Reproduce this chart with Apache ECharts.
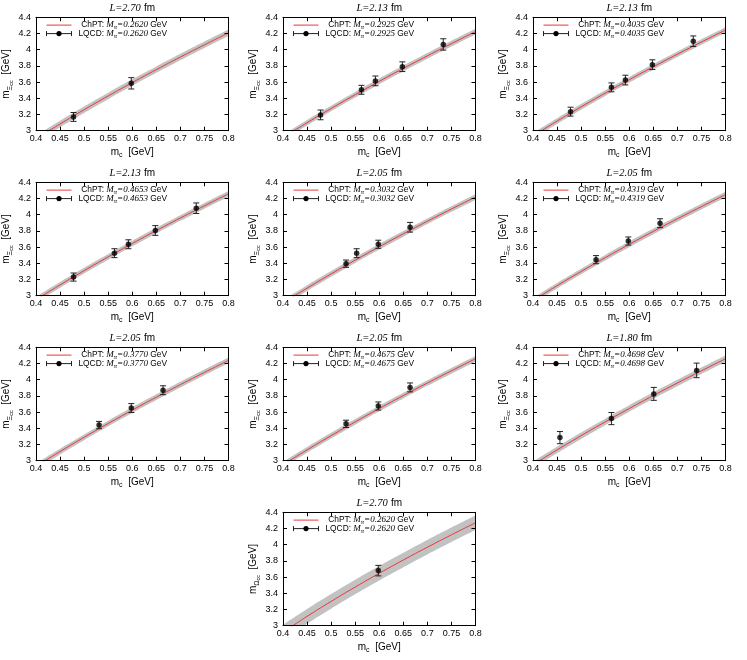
<!DOCTYPE html>
<html><head><meta charset="utf-8">
<script src="https://cdn.jsdelivr.net/npm/echarts@6/dist/echarts.min.js"></script>
<style>html,body{margin:0;padding:0;background:#fff}#c{width:747px;height:660px}</style>
</head><body><div id="c"></div>
<script>
// ---------- DATA ----------
const mcGrid = [0.40, 0.45, 0.50, 0.55, 0.60, 0.65, 0.70, 0.75, 0.80];

const chptP1  = [2.900, 3.083, 3.259, 3.429, 3.594, 3.754, 3.909, 4.060, 4.208];
const chptP2  = [2.915, 3.098, 3.274, 3.444, 3.609, 3.769, 3.924, 4.075, 4.223];
const chptP3  = [2.935, 3.118, 3.294, 3.464, 3.629, 3.789, 3.944, 4.095, 4.243];
const chptP4  = [2.950, 3.133, 3.309, 3.479, 3.644, 3.804, 3.959, 4.110, 4.258];
const chptP5  = [2.910, 3.093, 3.269, 3.439, 3.604, 3.764, 3.919, 4.070, 4.218];
const chptP6  = [2.940, 3.123, 3.299, 3.469, 3.634, 3.794, 3.949, 4.100, 4.248];
const chptP7  = [2.930, 3.113, 3.289, 3.459, 3.624, 3.784, 3.939, 4.090, 4.238];
const chptP8  = [2.950, 3.133, 3.309, 3.479, 3.644, 3.804, 3.959, 4.110, 4.258];
const chptP9  = [2.950, 3.133, 3.309, 3.479, 3.644, 3.804, 3.959, 4.110, 4.258];
const chptP10 = [2.920, 3.115, 3.300, 3.477, 3.647, 3.811, 3.969, 4.122, 4.270];

const bandHalfWidth = [0.04, 0.035, 0.035, 0.035, 0.035, 0.035, 0.035, 0.035, 0.04, 0.09];

const lqcdMcP1  = [0.478, 0.598];
const lqcdMP1   = [3.170, 3.585];
const lqcdErrP1 = [0.055, 0.070];
const lqcdMcP2  = [0.478, 0.563, 0.592, 0.648, 0.733];
const lqcdMP2   = [3.195, 3.505, 3.615, 3.790, 4.065];
const lqcdErrP2 = [0.060, 0.055, 0.060, 0.060, 0.070];
const lqcdMcP3  = [0.478, 0.563, 0.592, 0.648, 0.733];
const lqcdMP3   = [3.235, 3.535, 3.625, 3.815, 4.105];
const lqcdErrP3 = [0.055, 0.055, 0.060, 0.060, 0.065];
const lqcdMcP4  = [0.478, 0.563, 0.592, 0.648, 0.733];
const lqcdMP4   = [3.230, 3.525, 3.635, 3.805, 4.080];
const lqcdErrP4 = [0.050, 0.055, 0.055, 0.060, 0.065];
const lqcdMcP5  = [0.531, 0.553, 0.598, 0.664];
const lqcdMP5   = [3.395, 3.525, 3.635, 3.845];
const lqcdErrP5 = [0.045, 0.055, 0.050, 0.060];
const lqcdMcP6  = [0.531, 0.598, 0.664];
const lqcdMP6   = [3.445, 3.675, 3.895];
const lqcdErrP6 = [0.050, 0.050, 0.055];
const lqcdMcP7  = [0.531, 0.598, 0.664];
const lqcdMP7   = [3.440, 3.650, 3.870];
const lqcdErrP7 = [0.045, 0.055, 0.055];
const lqcdMcP8  = [0.531, 0.598, 0.664];
const lqcdMP8   = [3.455, 3.675, 3.905];
const lqcdErrP8 = [0.045, 0.050, 0.055];
const lqcdMcP9  = [0.456, 0.563, 0.651, 0.740];
const lqcdMP9   = [3.285, 3.520, 3.825, 4.115];
const lqcdErrP9 = [0.075, 0.075, 0.080, 0.090];
const lqcdMcP10  = [0.598];
const lqcdMP10   = [3.680];
const lqcdErrP10 = [0.065];

const boxSizes = ['2.70', '2.13', '2.13', '2.13', '2.05', '2.05', '2.05', '2.05', '1.80', '2.70'];
const pionMasses = ['0.2620', '0.2925', '0.4035', '0.4653', '0.3032', '0.4319', '0.3770', '0.4675', '0.4698', '0.2620'];
const baryonSymbols = ['Ξ', 'Ξ', 'Ξ', 'Ξ', 'Ξ', 'Ξ', 'Ξ', 'Ξ', 'Ξ', 'Ω'];

const xMin = 0.4, xMax = 0.8, xStep = 0.05;
const yMin = 3, yMax = 4.4, yStep = 0.2;

// ---------- BUILD ----------
const chpt = [chptP1, chptP2, chptP3, chptP4, chptP5, chptP6, chptP7, chptP8, chptP9, chptP10];
const lqcdMc = [lqcdMcP1, lqcdMcP2, lqcdMcP3, lqcdMcP4, lqcdMcP5, lqcdMcP6, lqcdMcP7, lqcdMcP8, lqcdMcP9, lqcdMcP10];
const lqcdM = [lqcdMP1, lqcdMP2, lqcdMP3, lqcdMP4, lqcdMP5, lqcdMP6, lqcdMP7, lqcdMP8, lqcdMP9, lqcdMP10];
const lqcdErr = [lqcdErrP1, lqcdErrP2, lqcdErrP3, lqcdErrP4, lqcdErrP5, lqcdErrP6, lqcdErrP7, lqcdErrP8, lqcdErrP9, lqcdErrP10];

const SANS = '"Liberation Sans", Arial, Helvetica, sans-serif';
const SERIF = '"Liberation Serif", "Times New Roman", serif';
const colLeft = [36, 283, 533];
const rowTop = [17.3, 182.3, 347.3, 512.3];
const PW = 192.5, PH = 113.4;
const pCol = [0, 1, 2, 0, 1, 2, 0, 1, 2, 1];
const pRow = [0, 0, 0, 1, 1, 1, 2, 2, 2, 3];

const RED = '#e8383a';
const BAND = '#c2c2c2';

const axisRich = {
  m: {fontFamily: SANS, fontSize: 10, lineHeight: 16, verticalAlign: 'middle', color: '#000'},
  s: {fontFamily: SANS, fontSize: 7, verticalAlign: 'bottom', padding: [0, 0, 1.5, 0], color: '#000'},
  ss: {fontFamily: SANS, fontSize: 5.5, verticalAlign: 'bottom', color: '#000'}
};

const legRich = {
  n: {fontFamily: SANS, fontSize: 8.4, lineHeight: 12, verticalAlign: 'middle', color: '#000'},
  i: {fontFamily: SERIF, fontStyle: 'italic', fontSize: 9, lineHeight: 12, verticalAlign: 'middle', color: '#000'},
  s: {fontFamily: SERIF, fontStyle: 'italic', fontSize: 6.5, verticalAlign: 'bottom', color: '#000'}
};
const titleRich = {
  n: {fontFamily: SANS, fontSize: 10, lineHeight: 13, verticalAlign: 'middle', color: '#000'},
  i: {fontFamily: SERIF, fontStyle: 'italic', fontSize: 10.5, lineHeight: 13, verticalAlign: 'middle', color: '#000'}
};

const grids = [], xAxes = [], yAxes = [], series = [], graphics = [];

function errRender(params, api) {
  const x = api.value(0), y = api.value(1), e = api.value(2);
  const t = api.coord([x, y + e]);
  const b = api.coord([x, y - e]);
  const st = {stroke: '#222', lineWidth: 1};
  const cw = 3;
  return {type: 'group', children: [
    {type: 'line', shape: {x1: t[0], y1: t[1], x2: b[0], y2: b[1]}, style: st},
    {type: 'line', shape: {x1: t[0] - cw, y1: t[1], x2: t[0] + cw, y2: t[1]}, style: st},
    {type: 'line', shape: {x1: b[0] - cw, y1: b[1], x2: b[0] + cw, y2: b[1]}, style: st}
  ]};
}

for (let i = 0; i < 10; i++) {
  const L = colLeft[pCol[i]], T = rowTop[pRow[i]];
  grids.push({left: L, top: T, width: PW, height: PH, show: false});
  const tickCommon = {show: true, inside: true, length: 4, lineStyle: {color: '#000', width: 1}};
  const lineCommon = {show: true, onZero: false, lineStyle: {color: '#000', width: 1}};
  xAxes.push({
    gridIndex: i, type: 'value', position: 'bottom', min: xMin, max: xMax, interval: xStep, z: 10,
    axisLine: lineCommon, axisTick: tickCommon, splitLine: {show: false},
    axisLabel: {fontFamily: SANS, fontSize: 9, color: '#000', margin: 3},
    name: '{m|m}{s|c}{m|  [GeV]}', nameLocation: 'middle', nameGap: 13.5,
    nameTextStyle: {rich: axisRich}
  });
  xAxes.push({
    gridIndex: i, type: 'value', position: 'top', min: xMin, max: xMax, interval: xStep, z: 10,
    axisLine: lineCommon, axisTick: tickCommon, splitLine: {show: false},
    axisLabel: {show: false}
  });
  yAxes.push({
    gridIndex: i, type: 'value', position: 'left', min: yMin, max: yMax, interval: yStep, z: 10,
    axisLine: lineCommon, axisTick: tickCommon, splitLine: {show: false},
    axisLabel: {fontFamily: SANS, fontSize: 9, color: '#000', margin: 5},
    name: '{m|m}{s|' + baryonSymbols[i] + '}{ss|cc}{m|  [GeV]}', nameLocation: 'middle', nameGap: 18.5,
    nameRotate: 90, nameTextStyle: {rich: axisRich}
  });
  yAxes.push({
    gridIndex: i, type: 'value', position: 'right', min: yMin, max: yMax, interval: yStep, z: 10,
    axisLine: lineCommon, axisTick: tickCommon, splitLine: {show: false},
    axisLabel: {show: false}
  });
  const xi = 2 * i, yi = 2 * i;
  const bw = bandHalfWidth[i];
  // upper edge of the uncertainty band, filled down to the axis
  series.push({
    type: 'line', xAxisIndex: xi, yAxisIndex: yi, smooth: true, symbol: 'none',
    silent: true, lineStyle: {width: 0, opacity: 0}, areaStyle: {color: BAND, opacity: 1, origin: 'start'}, z: 1,
    data: mcGrid.map((x, k) => [x, chpt[i][k] + bw])
  });
  // lower edge of the band: white fill below it
  series.push({
    type: 'line', xAxisIndex: xi, yAxisIndex: yi, smooth: true, symbol: 'none',
    silent: true, lineStyle: {width: 0, opacity: 0}, areaStyle: {color: '#fff', opacity: 1, origin: 'start'}, z: 2,
    data: mcGrid.map((x, k) => [x, chpt[i][k] - bw])
  });
  series.push({
    type: 'line', xAxisIndex: xi, yAxisIndex: yi, smooth: true, symbol: 'none', silent: true,
    lineStyle: {color: RED, width: 1}, z: 3,
    data: mcGrid.map((x, k) => [x, chpt[i][k]])
  });
  series.push({
    type: 'custom', xAxisIndex: xi, yAxisIndex: yi, renderItem: errRender, z: 4, silent: true,
    encode: {x: 0, y: 1},
    data: lqcdMc[i].map((x, k) => [x, lqcdM[i][k], lqcdErr[i][k]])
  });
  series.push({
    type: 'scatter', xAxisIndex: xi, yAxisIndex: yi, symbol: 'circle', symbolSize: 5.5, z: 5, silent: true,
    itemStyle: {color: '#000'},
    data: lqcdMc[i].map((x, k) => [x, lqcdM[i][k]])
  });

  // title
  graphics.push({
    type: 'text', x: L + PW / 2, y: T - 9, z: 20,
    style: {text: '{i|L=' + boxSizes[i] + '} {n|fm}', rich: titleRich, align: 'center', verticalAlign: 'middle'}
  });
  // legend
  const r1 = T + 7.8, r2 = T + 16.3;
  graphics.push({type: 'line', z: 20, shape: {x1: L + 10.5, y1: r1, x2: L + 35.5, y2: r1}, style: {stroke: RED, lineWidth: 1}});
  graphics.push({
    type: 'text', x: L + 131, y: r1, z: 20,
    style: {text: '{n|ChPT: }{i|M}{s|π}{i|=' + pionMasses[i] + '}{n| GeV}', rich: legRich, align: 'right', verticalAlign: 'middle'}
  });
  graphics.push({type: 'line', z: 20, shape: {x1: L + 10.5, y1: r2, x2: L + 35.5, y2: r2}, style: {stroke: '#222', lineWidth: 1}});
  graphics.push({type: 'line', z: 20, shape: {x1: L + 10.5, y1: r2 - 2.5, x2: L + 10.5, y2: r2 + 2.5}, style: {stroke: '#222', lineWidth: 1}});
  graphics.push({type: 'line', z: 20, shape: {x1: L + 35.5, y1: r2 - 2.5, x2: L + 35.5, y2: r2 + 2.5}, style: {stroke: '#222', lineWidth: 1}});
  graphics.push({type: 'circle', z: 20, shape: {cx: L + 23, cy: r2, r: 2.6}, style: {fill: '#000'}});
  graphics.push({
    type: 'text', x: L + 131, y: r2, z: 20,
    style: {text: '{n|LQCD: }{i|M}{s|π}{i|=' + pionMasses[i] + '}{n| GeV}', rich: legRich, align: 'right', verticalAlign: 'middle'}
  });
}

const chart = echarts.init(document.getElementById('c'), null, {renderer: 'canvas'});
chart.setOption({
  animation: false,
  backgroundColor: '#fff',
  grid: grids, xAxis: xAxes, yAxis: yAxes, series: series,
  graphic: graphics
});
</script>
</body></html>
